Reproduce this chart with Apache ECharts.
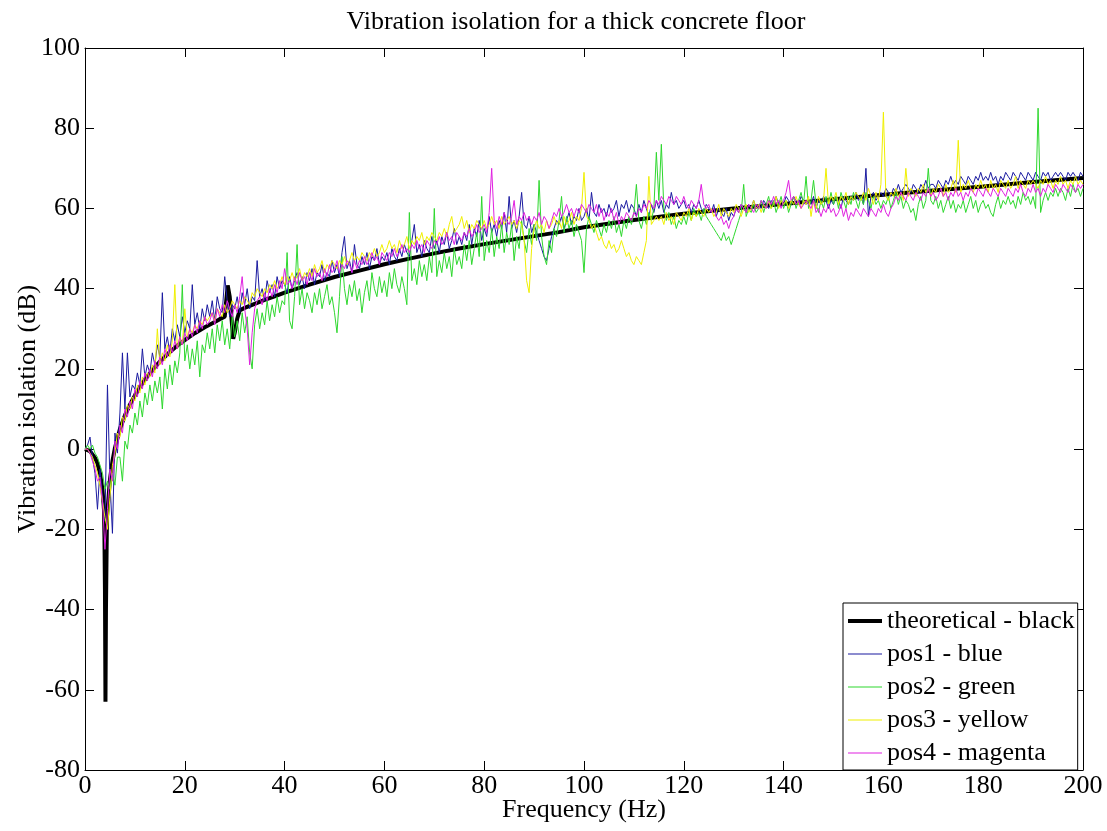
<!DOCTYPE html>
<html>
<head>
<meta charset="utf-8">
<script src="https://cdn.jsdelivr.net/npm/echarts@6/dist/echarts.min.js"></script>
<style>
html,body{margin:0;padding:0;background:#fff;}
#chart{width:1107px;height:831px;}
</style>
</head>
<body>
<div id="chart"></div>
<script>
// ---------- data ----------
const titleText = 'Vibration isolation for a thick concrete floor';
const xName = 'Frequency (Hz)';
const yName = 'Vibration isolation (dB)';
const seriesNames = ['theoretical - black', 'pos1 - blue', 'pos2 - green', 'pos3 - yellow', 'pos4 - magenta'];

// theoretical curve (irregular frequency sampling)
const theoFreq = [0,1,2,2.5,3,3.5,3.8,3.9,4,4.1,4.2,4.4,5,5.5,6,7,8,9,10,11,12,13,14,15,16,17,18,19,20,22,24,26,27,28,28.3,28.6,29,29.4,29.7,30,30.5,31,32,34,36,38,40,45,50,55,60,65,70,75,80,85,90,95,100,110,120,130,140,150,160,170,180,190,200];
const theoVal  = [0,-0.5,-2.2,-3.5,-6,-10,-15,-22,-35,-63,-40,-17,-7.6,-3,0.3,5,8.4,11.1,13.4,15.5,17.3,18.9,20.4,21.8,23,24.2,25.3,26.3,27.2,28.9,30.4,31.7,32.4,33,37,40.8,38,32,27.5,29,32.5,34.6,35.2,36.2,37.2,38.1,39,41,42.9,44.5,46.1,47.5,48.8,50,51.1,52.1,53.1,54.1,55.3,57.1,58.7,60,61.1,62.3,63.4,64.5,65.5,66.6,67.6];

// measured positions, sampled every 0.5 Hz from 0 to 200 Hz (one row = 5 Hz)
const measStep = 0.5;
const pos1 = [
0,1,3,-2,-6,-15,-5,-12,-18,16,
-8,-21,4,-1,9,24,10,24,13,16,
15,19,16,25,18,21,19,24,21,26,
23,39,25,28,24,30,27,31,28,33,
29,32,30,41,31,34,30,35,32,36,
33,37,32,38,35,34,43,37,33,36,
35,38,34,39,36,40,35,38,37,47,
38,40,37,42,39,41,38,43,40,42,
41,39,43,40,42,44,41,43,40,44,
42,45,41,44,43,46,42,44,43,47,
44,46,43,49,53,45,47,44,51,46,
45,48,46,49,45,48,47,50,46,48,
47,49,46,50,48,47,50,48,51,49,
48,52,56,49,51,48,52,50,49,53,
50,52,49,53,51,54,50,52,55,51,
53,51,54,52,56,51,55,53,57,52,
55,53,58,54,56,53,57,55,59,54,
63,55,57,54,58,64,56,55,58,54,
56,54,52,50,48,47,50,53,55,57,
56,58,55,57,59,56,58,57,60,57,
58,60,57,64,59,58,61,59,60,58,
61,59,60,62,58,61,60,62,59,61,
60,58,61,59,62,60,58,61,59,62,
60,62,59,61,60,64,61,62,60,61,
62,60,61,59,61,60,62,60,59,61,
60,59,61,58,60,59,58,60,57,59,
58,60,59,61,60,59,61,60,62,60,
61,60,62,61,60,62,61,63,61,62,
61,63,62,61,63,62,61,63,62,61,
62,61,63,60,62,61,63,62,60,62,
61,63,62,60,63,62,61,63,62,64,
62,63,61,70,58,63,64,62,63,64,
63,65,64,63,65,64,66,64,65,66,
65,64,66,65,64,66,65,67,65,66,
66,65,67,66,65,67,66,68,66,67,
66,68,67,66,68,67,66,68,67,69,
67,68,67,69,67,68,66,68,67,69,
68,67,69,68,67,69,68,67,69,68,
67,69,68,67,69,68,69,67,68,69,
68,69,68,67,69,68,69,68,67,69,68
];
const pos2 = [
0,1,0,1,-1,-2,-4,-6,-10,-8,
-10,-6,-9,-2,-2,-8,2,0,6,4,
9,6,12,8,14,11,16,12,17,14,
18,10,20,15,21,16,22,19,24,41,
22,26,20,25,21,27,18,26,24,29,
25,30,24,31,27,32,26,30,25,33,
28,32,27,34,29,33,24,20,31,35,
30,34,31,37,32,36,33,38,34,37,
36,49,32,30,38,51,36,40,35,39,
37,34,39,36,40,35,38,41,36,38,
34,29,38,48,40,36,41,38,42,37,
40,34,39,42,37,44,40,38,43,39,
42,38,44,40,45,41,39,43,40,36,
59,42,45,41,47,43,46,42,48,44,
60,43,47,44,49,45,48,43,50,46,
48,45,51,47,52,46,50,54,48,63,
47,52,49,55,48,53,50,56,49,54,
51,56,47,53,50,57,52,49,55,51,
56,52,67,53,48,46,52,49,55,53,
57,63,54,58,55,57,53,56,54,52,
44,55,58,56,54,57,55,53,56,54,
57,55,58,54,56,53,57,55,58,56,
59,66,57,55,58,56,59,57,60,74,
62,76,60,57,59,56,58,55,57,56,
58,56,59,57,60,58,59,57,60,58,
57,56,55,54,53,52,54,52,53,51,
53,55,57,59,66,58,60,59,61,59,
60,62,59,61,63,60,62,59,61,63,
60,62,59,61,63,60,62,64,61,68,
60,62,67,61,59,62,60,63,61,64,
61,63,60,64,62,60,63,61,64,62,
60,63,61,64,62,60,63,61,62,60,
62,61,63,60,62,64,61,63,60,62,
61,59,60,57,61,63,60,62,70,62,
61,63,60,62,59,61,63,60,62,59,
61,60,62,59,61,63,60,62,59,61,
62,60,61,59,58,61,63,60,62,61,
63,61,62,60,63,61,64,62,63,61,
63,60,85,59,62,64,62,64,63,65,
63,65,64,62,65,63,66,64,65,63,65
];
const pos3 = [
0,0,-1,-2,-4,-6,-9,-13,-17,-20,
-12,-4,-1,4,3,8,7,11,10,13,
12,16,14,18,16,19,18,21,19,30,
21,24,22,26,23,27,41,25,28,26,
35,28,30,29,31,30,32,31,33,32,
33,34,32,35,34,33,36,34,35,37,
36,35,37,36,38,37,36,39,38,40,
39,38,40,39,41,40,42,40,41,43,
41,43,42,44,42,43,45,42,44,43,
45,43,46,44,45,47,44,46,45,47,
46,45,47,46,48,46,47,49,47,48,
47,49,48,47,49,48,50,48,49,51,
49,50,52,50,51,49,52,50,51,53,
50,52,51,53,52,54,51,53,52,54,
53,52,54,53,55,53,56,58,54,55,
56,58,55,57,54,56,55,57,56,55,
57,55,56,58,56,57,55,58,56,57,
58,56,57,55,57,56,52,42,39,50,
55,57,55,56,54,57,55,56,58,56,
57,55,58,56,57,59,56,58,57,60,
69,58,57,55,56,54,52,53,51,50,
52,50,51,49,50,52,50,48,49,47,
46,48,47,46,49,52,68,56,57,58,
57,58,56,59,57,58,56,59,58,57,
59,58,60,57,59,58,60,59,58,60,
59,60,58,59,61,58,60,59,58,60,
59,61,60,58,60,61,59,60,62,60,
61,59,61,60,62,60,61,63,60,62,
61,62,60,62,61,63,61,60,62,61,
63,58,62,60,63,61,62,70,61,63,
62,64,61,63,62,64,61,63,62,64,
63,62,64,62,65,63,61,64,62,66,
84,63,62,64,63,65,63,64,62,70,
63,65,64,63,65,64,66,64,65,63,
65,64,66,65,63,66,64,65,67,64,
77,64,66,65,67,65,64,66,65,67,
65,66,64,67,65,66,64,67,66,65,
67,65,66,68,65,67,66,65,67,66,
67,66,65,67,66,68,66,67,65,67,
66,68,66,67,65,67,66,68,66,67,66
];
const pos4 = [
0,0,-1,-3,-5,-8,-7,-13,-25,-15,
-5,-8,2,0,6,4,10,8,12,10,
15,13,17,15,19,17,20,18,22,20,
23,21,25,23,26,24,27,25,28,26,
29,27,30,28,31,29,32,30,33,31,
32,34,31,35,33,36,34,37,35,33,
36,34,38,43,35,30,21,29,35,37,
38,36,39,37,40,38,41,39,42,40,
45,41,42,40,43,41,44,42,43,41,
44,42,45,43,44,42,45,43,46,44,
45,47,44,46,45,47,46,44,47,45,
47,46,48,46,47,49,47,48,46,49,
48,47,49,48,50,48,49,51,49,50,
49,51,50,52,50,51,49,52,51,50,
52,51,53,51,52,54,52,53,51,54,
53,52,54,53,55,53,54,56,54,55,
56,54,59,70,57,55,58,56,59,57,
56,58,62,56,58,57,59,57,58,56,
58,57,59,56,58,57,55,57,59,58,
60,58,59,61,59,60,58,60,59,61,
60,59,61,60,59,61,58,60,57,59,
58,60,57,59,56,58,57,59,58,57,
59,58,60,59,61,60,62,61,60,62,
61,63,62,61,63,62,61,63,62,61,
63,61,60,62,61,60,62,66,61,60,
61,59,60,58,57,58,56,57,55,57,
58,60,59,61,60,59,61,60,59,61,
60,62,61,60,62,61,63,61,62,60,
62,64,67,62,63,61,62,60,61,62,
61,60,62,59,60,58,60,59,61,59,
60,58,59,61,58,60,57,59,58,60,
59,58,60,59,58,60,59,58,60,59,
61,59,58,60,61,63,62,64,63,62,
64,63,62,64,63,62,64,63,65,63,
64,62,63,65,63,64,62,64,63,65,
63,64,62,64,63,65,64,63,65,64,
63,65,64,63,65,64,63,65,64,63,
65,64,63,65,64,66,64,63,65,64,
66,64,65,63,65,64,66,65,64,66,
65,64,66,65,64,66,65,64,66,65,66
];
const xTicks = {min: 0, max: 200, step: 20};
const yTicks = {min: -80, max: 100, step: 20};

// ---------- chart ----------
const font = 'Liberation Serif';
const colors = ['#000000', '#1a1aa0', '#2ed82e', '#f0f000', '#e020e0'];
const widths = [4, 1, 1, 1, 1];

function pairs(xs, ys) { return ys.map((v, i) => [xs[i], v]); }
function measPairs(ys) { return ys.map((v, i) => [i * measStep, v]); }

const dataSets = [pairs(theoFreq, theoVal), measPairs(pos1), measPairs(pos2), measPairs(pos3), measPairs(pos4)];

const axisLineStyle = {color: '#000', width: 1};
function xAxisDef(pos, main) {
  return {
    type: 'value', position: pos, min: xTicks.min, max: xTicks.max, interval: xTicks.step,
    axisLine: {show: true, onZero: false, lineStyle: axisLineStyle},
    axisTick: {show: true, inside: true, length: 9, lineStyle: axisLineStyle},
    axisLabel: {show: main, fontFamily: font, fontSize: 26, color: '#000', margin: 3},
    splitLine: {show: false},
    name: main ? xName : '', nameLocation: 'middle', nameGap: 27, nameMoveOverlap: false,
    nameTextStyle: {fontFamily: font, fontSize: 26, color: '#000'}
  };
}
function yAxisDef(pos, main) {
  return {
    type: 'value', position: pos, min: yTicks.min, max: yTicks.max, interval: yTicks.step,
    axisLine: {show: true, onZero: false, lineStyle: axisLineStyle},
    axisTick: {show: true, inside: true, length: 9, lineStyle: axisLineStyle},
    axisLabel: {show: main, fontFamily: font, fontSize: 26, color: '#000', margin: 5},
    splitLine: {show: false},
    name: main ? yName : '', nameLocation: 'middle', nameGap: 44, nameRotate: 90, nameMoveOverlap: false,
    nameTextStyle: {fontFamily: font, fontSize: 26, color: '#000'}
  };
}

const chart = echarts.init(document.getElementById('chart'), null, {renderer: 'canvas'});
chart.setOption({
  animation: false,
  backgroundColor: '#ffffff',
  title: {
    text: titleText, left: 576, top: 9, textAlign: 'center', padding: 0,
    textStyle: {fontFamily: font, fontSize: 26, fontWeight: 'normal', color: '#000'}
  },
  grid: {left: 85, right: 24, top: 48, bottom: 61, containLabel: false, outerBoundsMode: 'none'},
  xAxis: [xAxisDef('bottom', true), xAxisDef('top', false)],
  yAxis: [yAxisDef('left', true), yAxisDef('right', false)],
  legend: {
    orient: 'vertical', left: 843, top: 603,
    padding: [5, 3, 4, 5], itemGap: 7, itemWidth: 34, itemHeight: 26,
    backgroundColor: '#fff', borderColor: '#000', borderWidth: 1, borderRadius: 0,
    selectedMode: false,
    textStyle: {fontFamily: font, fontSize: 26, color: '#000', lineHeight: 26},
    data: seriesNames.map((n, i) => ({
      name: n,
      icon: i === 0 ? 'path://M0 0H34V4H0Z' : 'path://M0 0H34V1H0Z',
      itemStyle: {color: colors[i]}
    }))
  },
  series: seriesNames.map((n, i) => ({
    name: n, type: 'line', xAxisIndex: 0, yAxisIndex: 0,
    data: dataSets[i], showSymbol: false, symbol: 'none', smooth: false,
    color: colors[i],
    lineStyle: {color: colors[i], width: widths[i]},
    z: 2 + i
  }))
});
</script>
</body>
</html>
